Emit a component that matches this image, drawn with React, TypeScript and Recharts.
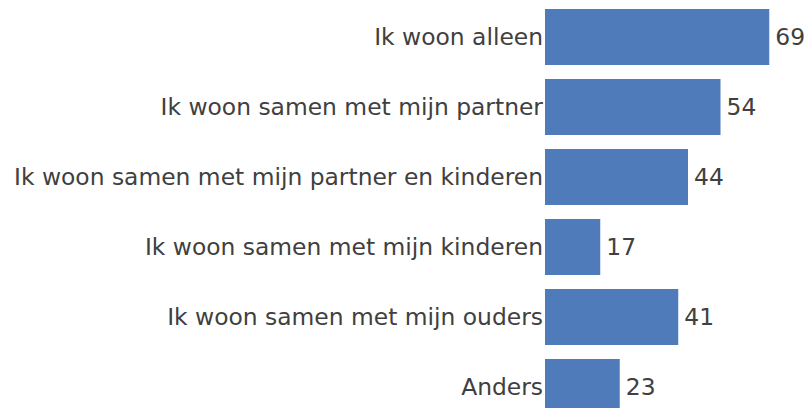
import { BarChart, Bar, XAxis, YAxis, LabelList } from "recharts";

const categories = [
  "Ik woon alleen",
  "Ik woon samen met mijn partner",
  "Ik woon samen met mijn partner en kinderen",
  "Ik woon samen met mijn kinderen",
  "Ik woon samen met mijn ouders",
  "Anders",
];
const counts = [69, 54, 44, 17, 41, 23];

const data = categories.map((c, i) => ({ name: c, value: counts[i] }));

const FONT = "'DejaVu Sans', Verdana, sans-serif";
const TEXT = "#404040";
const FS = 23.4;

export default function App() {
  return (
    <div style={{ position: "absolute", left: 0, top: 0, width: 808, height: 408, overflow: "hidden", background: "#fff" }}>
      <BarChart
        width={808}
        height={430}
        data={data}
        layout="vertical"
        margin={{ top: 2, right: 3, bottom: 8, left: 0 }}
        barCategoryGap="10%"
      >
        <XAxis type="number" domain={[0, 80]} hide />
        <YAxis
          type="category"
          dataKey="name"
          width={545}
          axisLine={false}
          tickLine={false}
          tickSize={0}
          tickMargin={2}
          interval={0}
          tick={{ fill: TEXT, fontSize: FS, fontFamily: FONT }}
        />
        <Bar dataKey="value" fill="#4F7BBA" isAnimationActive={false}>
          <LabelList dataKey="value" position="right" offset={6} fill={TEXT} fontSize={FS} fontFamily={FONT} />
        </Bar>
      </BarChart>
    </div>
  );
}
